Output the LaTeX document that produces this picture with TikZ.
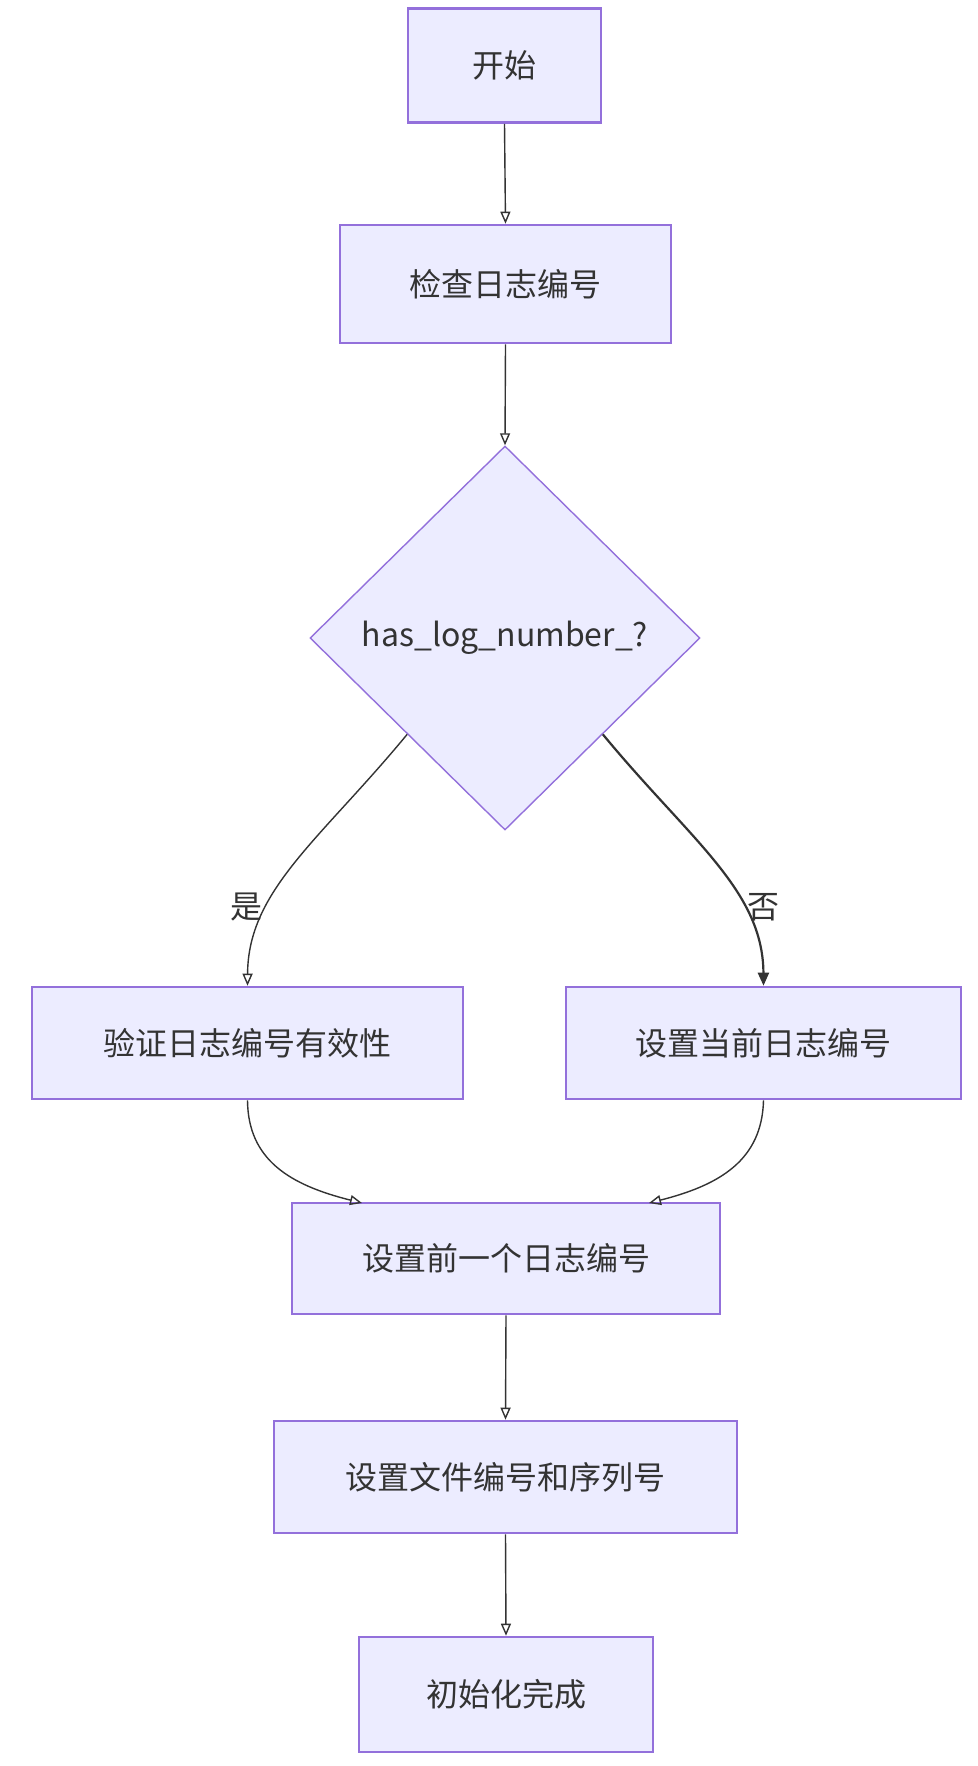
\documentclass[tikz,border=0pt]{standalone}
\usepackage{fontspec}
\setmainfont{Noto Sans CJK SC}
\usetikzlibrary{arrows.meta,shapes.geometric}
\definecolor{boxfill}{HTML}{ECECFF}
\definecolor{boxline}{HTML}{9370DB}
\definecolor{ink}{HTML}{333333}
\tikzset{
  procbox/.style={draw=boxline, fill=boxfill, line width=1.3pt, rectangle, inner sep=0pt,
    text=ink, font=\fontsize{16}{19}\selectfont, align=center},
  decbox/.style={draw=boxline, fill=boxfill, line width=0.7pt, diamond, inner sep=0pt,
    text=ink, font=\fontsize{16}{19}\selectfont, minimum width=195pt, minimum height=192pt},
  flow/.style={draw=ink, line width=0.7pt, -{Triangle[open,length=6pt,width=5pt]}},
  flowbold/.style={draw=ink, line width=1.1pt, -{Triangle[length=6.5pt,width=5.5pt]}},
  lbl/.style={text=ink, font=\fontsize{16}{19}\selectfont, inner sep=0pt}
}
\begin{document}
\begin{tikzpicture}[x=0.5pt,y=-0.5pt]
\useasboundingbox (0,0) rectangle (978,1766);
\fill[white] (0,0) rectangle (978,1766);

\node[procbox, minimum width=96.5pt, minimum height=57pt] (start) at (504.5,65.5) {开始};
\node[procbox, minimum width=165.5pt, minimum height=59pt] (check) at (505.5,284) {检查日志编号};
\node[decbox] (dec) at (505,638) {has\_log\_number\_?};
\node[procbox, minimum width=215.5pt, minimum height=56pt] (yes) at (247.5,1043) {验证日志编号有效性};
\node[procbox, minimum width=197.5pt, minimum height=56pt] (no) at (763.5,1043) {设置当前日志编号};
\node[procbox, minimum width=214pt, minimum height=55.5pt] (prev) at (506,1258.5) {设置前一个日志编号};
\node[procbox, minimum width=231.5pt, minimum height=56pt] (file) at (505.5,1477) {设置文件编号和序列号};
\node[procbox, minimum width=147pt, minimum height=57.5pt] (end) at (506,1694.5) {初始化完成};

\draw[flow] (start.south) -- (check.north);
\draw[flow] (check.south) -- (dec.north);
\draw[flow] (dec.south west) .. controls (320,840) and (248,890) .. (yes.north);
\draw[flowbold] (dec.south east) .. controls (690,840) and (763,890) .. (no.north);
\node[lbl] (ylab) at (246,907) {是};
\node[lbl] (nlab) at (763,907) {否};
\coordinate (pl) at (362,1203);
\coordinate (pr) at (649,1203);
\draw[flow] (yes.south) .. controls (248,1160) and (290,1185) .. (pl);
\draw[flow] (no.south) .. controls (762,1160) and (720,1185) .. (pr);
\draw[flow] (prev.south) -- (file.north);
\draw[flow] (file.south) -- (end.north);
\end{tikzpicture}
\end{document}
